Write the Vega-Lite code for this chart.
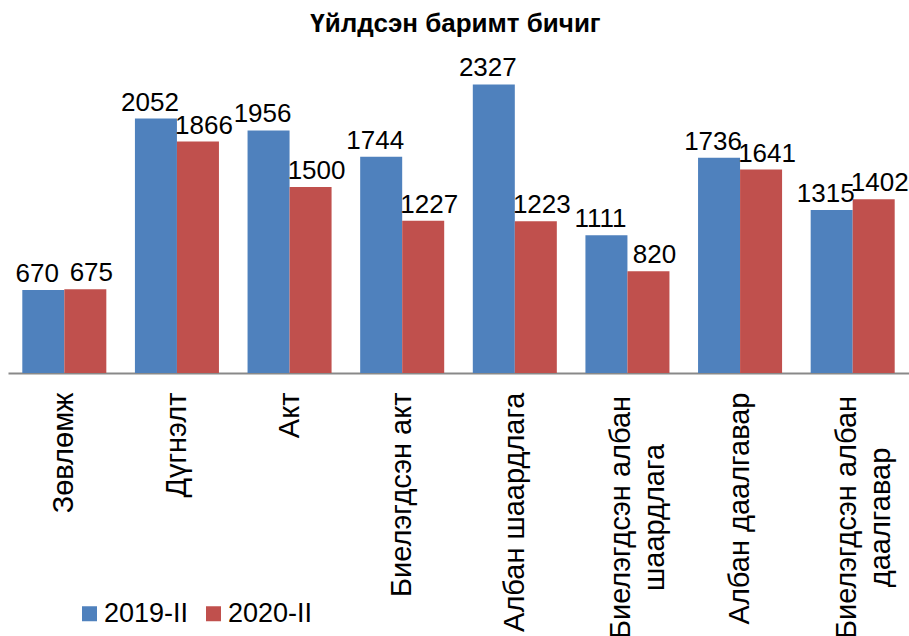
{
  "$schema": "https://vega.github.io/schema/vega-lite/v6.json",
  "width": 901,
  "height": 310,
  "autosize": {"type": "none"},
  "padding": {"left": 8, "top": 63, "right": 0, "bottom": 263},
  "background": "white",
  "title": {
    "text": "Үйлдсэн баримт бичиг",
    "font": "Liberation Sans",
    "fontSize": 26,
    "fontWeight": "bold",
    "color": "#000000",
    "anchor": "middle",
    "frame": "group",
    "baseline": "alphabetic",
    "offset": 26,
    "dy": 29,
    "dx": -3
  },
  "config": {
    "view": {"stroke": null},
    "font": "Liberation Sans"
  },
  "data": {
    "values": [
      {"category": "Зөвлөмж", "series": "2019-II", "value": 670},
      {"category": "Зөвлөмж", "series": "2020-II", "value": 675},
      {"category": "Дүгнэлт", "series": "2019-II", "value": 2052},
      {"category": "Дүгнэлт", "series": "2020-II", "value": 1866},
      {"category": "Акт", "series": "2019-II", "value": 1956},
      {"category": "Акт", "series": "2020-II", "value": 1500},
      {"category": "Биелэгдсэн акт", "series": "2019-II", "value": 1744},
      {"category": "Биелэгдсэн акт", "series": "2020-II", "value": 1227},
      {"category": "Албан шаардлага", "series": "2019-II", "value": 2327},
      {"category": "Албан шаардлага", "series": "2020-II", "value": 1223},
      {"category": "Биелэгдсэн албан шаардлага", "series": "2019-II", "value": 1111},
      {"category": "Биелэгдсэн албан шаардлага", "series": "2020-II", "value": 820},
      {"category": "Албан даалгавар", "series": "2019-II", "value": 1736},
      {"category": "Албан даалгавар", "series": "2020-II", "value": 1641},
      {"category": "Биелэгдсэн албан даалгавар", "series": "2019-II", "value": 1315},
      {"category": "Биелэгдсэн албан даалгавар", "series": "2020-II", "value": 1402}
    ]
  },
  "encoding": {
    "x": {
      "field": "category",
      "type": "nominal",
      "sort": null,
      "scale": {"paddingInner": 0.254, "paddingOuter": 0.127},
      "axis": {
        "title": null,
        "labelAngle": 270,
        "labelAlign": {"condition": {"test": "indexof(datum.value, 'Биелэгдсэн албан') == 0", "value": "center"}, "value": "right"},
        "labelPadding": {"condition": {"test": "indexof(datum.value, 'Биелэгдсэн албан') == 0", "value": 144}, "value": 19},
        "labelOffset": {"condition": {"test": "indexof(datum.value, 'Биелэгдсэн албан') == 0", "value": -6}, "value": 0},
        "labelBaseline": "middle",
        "labelFont": "Liberation Sans",
        "labelFontSize": 29,
        "labelColor": "#000000",
        "labelLineHeight": 34,
        "labelLimit": 0,
        "labelOverlap": false,
        "labelExpr": "datum.label == 'Биелэгдсэн албан шаардлага' ? ['Биелэгдсэн албан', 'шаардлага'] : datum.label == 'Биелэгдсэн албан даалгавар' ? ['Биелэгдсэн албан', 'даалгавар'] : datum.label",
        "ticks": false,
        "domainColor": "#898989",
        "domainWidth": 2
      }
    },
    "xOffset": {
      "field": "series",
      "type": "nominal",
      "scale": {"paddingInner": 0, "paddingOuter": 0}
    },
    "y": {
      "field": "value",
      "type": "quantitative",
      "scale": {"domain": [0, 2500], "nice": false},
      "axis": null
    }
  },
  "layer": [
    {
      "mark": {"type": "bar"},
      "encoding": {
        "color": {
          "field": "series",
          "type": "nominal",
          "scale": {"domain": ["2019-II", "2020-II"], "range": ["#4F81BD", "#C0504D"]},
          "legend": {
            "title": null,
            "orient": "none",
            "direction": "horizontal",
            "legendX": 68,
            "legendY": 537,
            "symbolType": "square",
            "symbolSize": 225,
            "symbolStrokeWidth": 0,
            "labelFont": "Liberation Sans",
            "labelFontSize": 27,
            "labelColor": "#000000",
            "labelOffset": 1,
            "columnPadding": 11,
            "padding": 0
          }
        }
      }
    },
    {
      "transform": [{"filter": "datum.series == '2019-II'"}],
      "mark": {"type": "text", "baseline": "alphabetic", "dy": -8, "dx": -6, "font": "Liberation Sans", "fontSize": 26, "color": "#000000"},
      "encoding": {"text": {"field": "value", "type": "quantitative"}}
    },
    {
      "transform": [{"filter": "datum.series == '2020-II'"}],
      "mark": {"type": "text", "baseline": "alphabetic", "dy": -8, "dx": 6, "font": "Liberation Sans", "fontSize": 26, "color": "#000000"},
      "encoding": {"text": {"field": "value", "type": "quantitative"}}
    }
  ]
}
